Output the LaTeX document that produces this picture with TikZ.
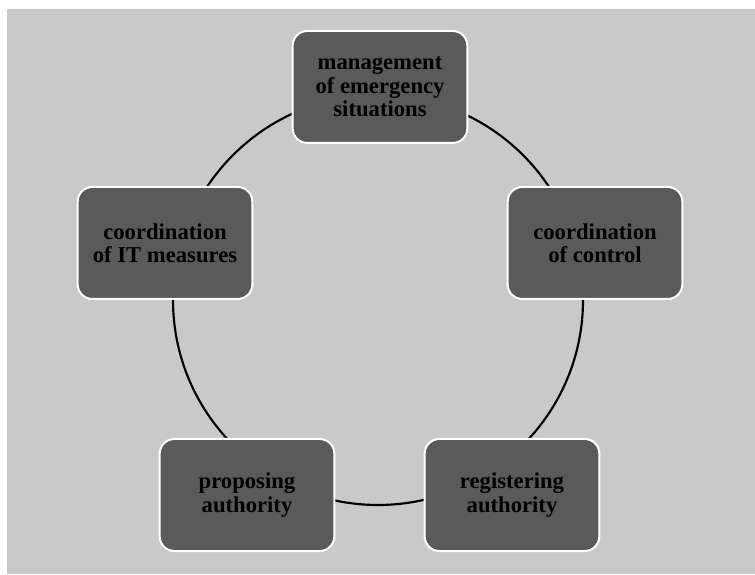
\documentclass[tikz,border=0pt]{standalone}
\usepackage{fontspec}
\setmainfont{Liberation Serif}
\definecolor{bggray}{HTML}{C9C9C9}
\definecolor{boxgray}{HTML}{5A5A5A}
\tikzstyle{stage}=[rounded corners=11pt,fill=boxgray,draw=white,line width=1.5pt,minimum width=131pt,minimum height=84pt,inner sep=0pt,align=center,font=\fontsize{17}{17.5}\selectfont\bfseries,text=black]

\begin{document}
\begin{tikzpicture}[x=0.75pt,y=0.75pt]
    \useasboundingbox (0,0) rectangle (755,574);
    \fill[bggray] (7,0) rectangle (755,565);
    \coordinate (ctr) at (378,274);
    \draw[line width=1.6pt] (ctr) circle (205);

    \node[stage] (mgmt) at (380,487) {management\\of emergency\\situations};
    \node[stage] (ctrl) at (595,331) {coordination\\of control};
    \node[stage] (reg) at (512,79) {registering\\authority};
    \node[stage] (prop) at (247,79) {proposing\\authority};
    \node[stage] (itm) at (165,331) {coordination\\of IT measures};
\end{tikzpicture}
\end{document}
